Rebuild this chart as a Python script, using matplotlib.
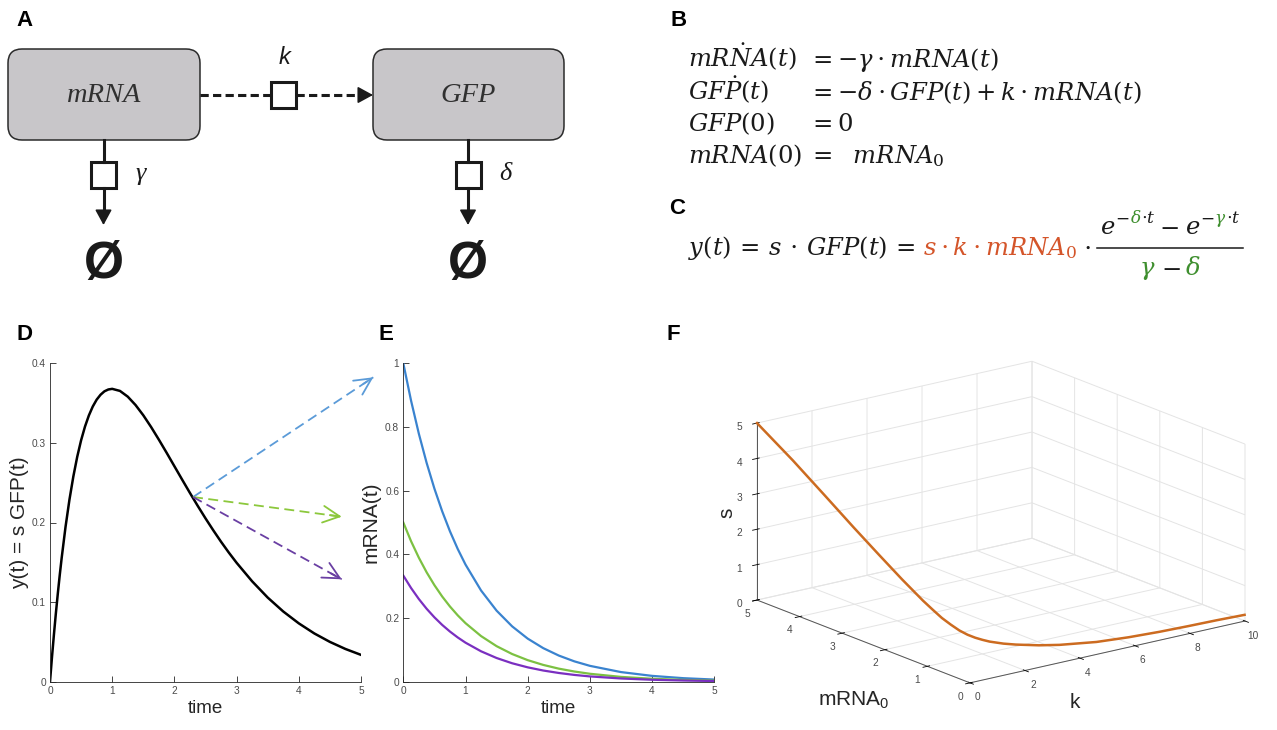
import numpy as np
import matplotlib
matplotlib.use('Agg')
import matplotlib.pyplot as plt
from matplotlib.patches import FancyBboxPatch, Rectangle
from mpl_toolkits.mplot3d import proj3d

# ---------------- data ----------------
# Panel D: y(t) = s*GFP(t)
t_d = [0, 0.03125, 0.0625, 0.09375, 0.125, 0.15625, 0.1875, 0.25, 0.3125, 0.375, 0.4375, 0.5,
       0.5625, 0.625, 0.6875, 0.75, 0.8125, 0.875, 0.9375, 1.0, 1.125, 1.25, 1.375, 1.5, 1.625,
       1.75, 1.875, 2.0, 2.125, 2.25, 2.375, 2.5, 2.625, 2.75, 2.875, 3.0, 3.25, 3.5, 3.75, 4.0,
       4.25, 4.5, 4.75, 5.0]
y_d = [0, 0.0303, 0.0587, 0.0854, 0.1103, 0.1337, 0.1554, 0.1947, 0.2286, 0.2577, 0.2825, 0.3033,
       0.3205, 0.3345, 0.3457, 0.3543, 0.3605, 0.3648, 0.3671, 0.3679, 0.3653, 0.3581, 0.3476,
       0.3347, 0.3200, 0.3041, 0.2876, 0.2707, 0.2538, 0.2371, 0.2209, 0.2052, 0.1902, 0.1758,
       0.1622, 0.1494, 0.1261, 0.1057, 0.0882, 0.0733, 0.0606, 0.0500, 0.0411, 0.0337]
arrow_anchor = (2.3, 0.232)

# Panel E: mRNA(t) for three initial amounts
t_e = [0, 0.125, 0.25, 0.375, 0.5, 0.625, 0.75, 0.875, 1.0, 1.25, 1.5, 1.75, 2.0, 2.25, 2.5,
       2.75, 3.0, 3.5, 4.0, 4.5, 5.0]
mrna_blue = [1.0, 0.8825, 0.7788, 0.6873, 0.6065, 0.5353, 0.4724, 0.4169, 0.3679, 0.2865, 0.2231,
             0.1738, 0.1353, 0.1054, 0.0821, 0.0639, 0.0498, 0.0302, 0.0183, 0.0111, 0.0067]
mrna_green = [0.5, 0.4412, 0.3894, 0.3436, 0.3033, 0.2676, 0.2362, 0.2084, 0.1839, 0.1433, 0.1116,
              0.0869, 0.0677, 0.0527, 0.0410, 0.0320, 0.0249, 0.0151, 0.0092, 0.0056, 0.0034]
mrna_purple = [0.3333, 0.2942, 0.2596, 0.2291, 0.2022, 0.1784, 0.1575, 0.1390, 0.1226, 0.0955,
               0.0744, 0.0579, 0.0451, 0.0351, 0.0274, 0.0213, 0.0166, 0.0101, 0.0061, 0.0037, 0.0022]

# Panel F: curve of equivalent parameter sets (k, mRNA0, s)
k_vals = [0, 0.25, 0.5, 0.75, 1.0, 1.25, 1.5, 1.625, 1.75, 1.875, 2.0, 2.125, 2.25, 2.375, 2.5,
          2.75, 3.0, 3.5, 4.0, 5.0, 6.0, 7.0, 8.0, 9.0, 10.0]
m0_vals = [5.0, 4.32, 3.73, 3.22, 2.78, 2.40, 2.07, 1.92, 1.79, 1.66, 1.54, 1.43, 1.33, 1.24, 1.15,
           0.99, 0.86, 0.64, 0.48, 0.26, 0.15, 0.08, 0.05, 0.03, 0.01]
s_vals = [5.0, 4.22, 3.46, 2.76, 2.14, 1.58, 1.09, 0.88, 0.69, 0.54, 0.41, 0.32, 0.26, 0.22, 0.19,
          0.165, 0.155, 0.15, 0.15, 0.16, 0.17, 0.18, 0.18, 0.18, 0.17]

d_xticks = [0, 1, 2, 3, 4, 5]
d_yticks = [0, 0.1, 0.2, 0.3, 0.4]
d_ytlabels = ['0', '0.1', '0.2', '0.3', '0.4']
e_yticks = [0, 0.2, 0.4, 0.6, 0.8, 1.0]
e_ytlabels = ['0', '0.2', '0.4', '0.6', '0.8', '1']
f_kticks = [0, 2, 4, 6, 8, 10]
f_mticks = [0, 1, 2, 3, 4, 5]
f_sticks = [0, 1, 2, 3, 4, 5]

# ---------------- style ----------------
W, H = 1277, 730
plt.rcParams['font.family'] = ['Liberation Sans', 'DejaVu Sans']
plt.rcParams['mathtext.fontset'] = 'dejavuserif'

C_BLUE = '#3a83cf'
C_GREEN = '#7cc142'
C_PURPLE = '#7a2fc0'
A_BLUE = '#5b9bd8'
A_GREEN = '#8cc83c'
A_PURPLE = '#6a3fa3'
C_ORANGE = '#cc6b20'
EQ_ORANGE = '#d4552a'
EQ_GREEN = '#3f8f2f'
BLACK = '#1a1a1a'
AX = '#262626'
TICKC = '#4a4a4a'

fig = plt.figure(figsize=(W / 100, H / 100), dpi=100)
fig.patch.set_facecolor('white')


def rect(x0, y_top, x1, y_bot):
    return [x0 / W, 1 - y_bot / H, (x1 - x0) / W, (y_bot - y_top) / H]


def style2d(ax):
    for sp in ['top', 'right']:
        ax.spines[sp].set_visible(False)
    for sp in ['left', 'bottom']:
        ax.spines[sp].set_color(AX)
        ax.spines[sp].set_linewidth(0.6)
    ax.tick_params(direction='in', length=4, width=0.6, color=AX, labelsize=7.3,
                   labelcolor=TICKC, pad=3)


# ---------------- panel D ----------------
axD = fig.add_axes(rect(50, 363.3, 361, 681.7))
axD.plot(t_d, y_d, color='black', lw=1.8, solid_joinstyle='round')
axD.set_xlim(0, 5)
axD.set_ylim(0, 0.4)
axD.set_xticks(d_xticks)
axD.set_yticks(d_yticks)
axD.set_yticklabels(d_ytlabels)
style2d(axD)
axD.set_xlabel('time', fontsize=13.5, color=AX, labelpad=3)
axD.set_ylabel('y(t) = s GFP(t)', fontsize=15, color=AX, labelpad=2)

# ---------------- panel E ----------------
axE = fig.add_axes(rect(403.3, 363.3, 714.3, 681.7))
axE.plot(t_e, mrna_blue, color=C_BLUE, lw=1.6)
axE.plot(t_e, mrna_green, color=C_GREEN, lw=1.6)
axE.plot(t_e, mrna_purple, color=C_PURPLE, lw=1.6)
axE.set_xlim(0, 5)
axE.set_ylim(0, 1)
axE.set_xticks(d_xticks)
axE.set_yticks(e_yticks)
axE.set_yticklabels(e_ytlabels)
style2d(axE)
axE.set_xlabel('time', fontsize=13.5, color=AX, labelpad=3)
axE.set_ylabel('mRNA(t)', fontsize=15, color=AX, labelpad=3)

# ---------------- panel F (3D) ----------------
axF = fig.add_axes([0.55, -0.1, 0.44, 0.44 * W / H], projection='3d')
axF.set_proj_type('ortho')
axF.view_init(elev=17.2, azim=-127.25)
axF.set_box_aspect((345.6, 352.0, 185.3))
axF.set_facecolor((1, 1, 1, 0))
axF.plot(k_vals, m0_vals, s_vals, color=C_ORANGE, lw=1.8, solid_joinstyle='round')
axF.set_xlim(0, 10)
axF.set_ylim(0, 5)
axF.set_zlim(0, 5)
axF.set_xticks(f_kticks)
axF.set_yticks(f_mticks)
axF.set_zticks(f_sticks)
for a in (axF.xaxis, axF.yaxis, axF.zaxis):
    a.set_pane_color((1, 1, 1, 0))
    a.pane.set_edgecolor('#e4e4e4')
    a._axinfo['grid']['color'] = '#e4e4e4'
    a._axinfo['grid']['linewidth'] = 0.7
    a._axinfo['axisline']['color'] = '#555555'
    a._axinfo['axisline']['linewidth'] = 0.7
    a._axinfo['tick']['color'] = '#555555'
    a._axinfo['tick']['linewidth'] = {True: 0.6, False: 0.5}
    a.line.set_color('#555555')
    a.line.set_linewidth(0.7)
axF.tick_params(labelsize=7.3, labelcolor=TICKC, pad=-1)


def proj_px(ax, p):
    xs, ys, _ = proj3d.proj_transform(p[0], p[1], p[2], ax.get_proj())
    return np.array(ax.transData.transform((xs, ys)))


targets = {(0, 0, 0): (970, H - 683), (10, 0, 0): (1245, H - 621),
           (0, 5, 0): (757, H - 600), (0, 5, 5): (757, H - 423)}
size = 0.44 * W
cx, cy = 1000, 210
axF.set_position([(cx - size / 2) / W, (cy - size / 2) / H, size / W, size / H])
for it in range(3):
    fig.canvas.draw()
    cur = {kk: proj_px(axF, kk) for kk in targets}
    sc = (targets[(10, 0, 0)][0] - targets[(0, 5, 0)][0]) / (cur[(10, 0, 0)][0] - cur[(0, 5, 0)][0])
    size *= sc
    axF.set_position([(cx - size / 2) / W, (cy - size / 2) / H, size / W, size / H])
    fig.canvas.draw()
    cur = {kk: proj_px(axF, kk) for kk in targets}
    off = np.mean([np.array(targets[kk]) - cur[kk] for kk in targets], axis=0)
    cx += off[0]
    cy += off[1]
    axF.set_position([(cx - size / 2) / W, (cy - size / 2) / H, size / W, size / H])

# ---------------- overlay (diagram, equations, labels, arrows) ----------------
ov = fig.add_axes([0, 0, 1, 1], zorder=10)
ov.set_xlim(0, W)
ov.set_ylim(H, 0)
ov.axis('off')
ov.patch.set_alpha(0)

# panel letters
for letter, x, y in [('A', 16, 20), ('B', 670, 20), ('C', 669, 208),
                     ('D', 17, 335), ('E', 379, 335), ('F', 667, 335)]:
    ov.text(x, y, letter, fontsize=16, fontweight='bold', ha='left', va='center', color='black')

# F axis labels
ov.text(727, 513, 's', fontsize=15, rotation=90, ha='center', va='center', color=AX)
ov.text(1075, 703, 'k', fontsize=15, ha='center', va='center', color=AX)
ov.text(854, 700, r'mRNA$_{\mathregular{0}}$', fontsize=15, ha='center', va='center', color=AX)

# ---- panel A diagram ----
LW = 2.2
DK = '#1a1a1a'
HEAD = dict(arrowstyle='-|>,head_length=0.55,head_width=0.3', color=DK, lw=1.2,
            shrinkA=0, shrinkB=0, mutation_scale=17)
box_kw = dict(boxstyle='round,pad=0,rounding_size=14', fc='#c8c6c9', ec='#2b2b2b', lw=1.1)
ov.add_patch(FancyBboxPatch((8, 49), 192, 91, **box_kw))
ov.add_patch(FancyBboxPatch((373, 49), 191, 91, **box_kw))
ov.text(104, 96, 'mRNA', family='Liberation Serif', style='italic', fontsize=20.5, color='#303030',
        ha='center', va='center')
ov.text(468, 96, 'GFP', family='Liberation Serif', style='italic', fontsize=20.5, color='#303030',
        ha='center', va='center')
# production link
dash = (0, (2.7, 1.4))
ov.plot([200, 271], [95, 95], color=DK, lw=LW, ls=dash)
ov.plot([296, 364], [95, 95], color=DK, lw=LW, ls=dash)
ov.annotate('', xy=(373, 95), xytext=(363, 95), arrowprops=HEAD)
ov.add_patch(Rectangle((271, 82), 25, 26, fc='white', ec=DK, lw=LW))
ov.text(285, 58, 'k', family='Liberation Sans', style='italic', fontsize=17, color=DK,
        ha='center', va='center')
# degradation links
for xc, sym in [(103.5, 'γ'), (468, 'δ')]:
    ov.plot([xc, xc], [140, 162], color=DK, lw=LW)
    ov.add_patch(Rectangle((xc - 12.5, 162), 25, 26, fc='white', ec=DK, lw=LW))
    ov.plot([xc, xc], [188, 216], color=DK, lw=LW)
    ov.annotate('', xy=(xc, 225), xytext=(xc, 214), arrowprops=HEAD)
    ov.text(xc + 37, 174, sym, family='Liberation Serif', style='italic', fontsize=19, color=DK,
            ha='center', va='center')
    ov.text(xc, 265, 'Ø', family='Liberation Sans', fontweight='bold', fontsize=37, color=DK,
            ha='center', va='center')

# ---- equations ----
renderer = fig.canvas.get_renderer()
EQ = 17.5


def put(x, y, s, size=EQ, color=BLACK):
    t = ov.text(x, y, s, fontsize=size, color=color, ha='left', va='baseline')
    return x + t.get_window_extent(renderer).width, t


lhs = [r'$mR\dot{N}A(t)$', r'$GF\dot{P}(t)$', r'$GFP(0)$', r'$mRNA(0)$']
rhs = [r'$=-\gamma\cdot mRNA(t)$', r'$=-\delta\cdot GFP(t)+k\cdot mRNA(t)$', r'$=0$',
       r'$=\ \ mRNA_0$']
for L, R, yb in zip(lhs, rhs, [67, 100, 131, 163]):
    put(688, yb, L)
    put(808, yb, R)

y0 = 255
x, _ = put(688, y0, r'$y(t)\,=\,s\,\cdot\, GFP(t)\,=$')
x += 8
x, _ = put(x, y0, r'$s\cdot k\cdot mRNA_0$', color=EQ_ORANGE)
x += 6
x, _ = put(x, y0, r'$\cdot$')
x += 6
bar_x0 = x

SUP = EQ * 0.7
num_base = 234
sup_base = num_base - 11
num_pieces = [('$e$', EQ, 0, BLACK), ('$-$', SUP, 1, BLACK), (r'$\delta$', SUP, 1, EQ_GREEN),
              (r'$\cdot t$', SUP, 1, BLACK), ('gap', 3, 0, None), ('$-$', EQ, 0, BLACK),
              ('gap', 6, 0, None), ('$e$', EQ, 0, BLACK), ('$-$', SUP, 1, BLACK),
              (r'$\gamma$', SUP, 1, EQ_GREEN), (r'$\cdot t$', SUP, 1, BLACK)]
den_pieces = [(r'$\gamma$', EQ, 0, EQ_GREEN), ('gap', 5, 0, None), ('$-$', EQ, 0, BLACK),
              ('gap', 5, 0, None), (r'$\delta$', EQ, 0, EQ_GREEN)]


def layout(pieces, base, xstart):
    xx = xstart
    objs = []
    for s, sz, sup, col in pieces:
        if s == 'gap':
            xx += sz
            continue
        xx, t = put(xx, sup_base if sup else base, s, size=sz, color=col)
        objs.append(t)
    return xx - xstart, objs


nw, nobjs = layout(num_pieces, num_base, bar_x0 + 3)
bar_w = nw + 5
ov.plot([bar_x0, bar_x0 + bar_w], [248, 248], color=BLACK, lw=1.1)
dw, dobjs = layout(den_pieces, 275, 0)
shift = bar_x0 + (bar_w - dw) / 2
for t in dobjs:
    px_, py_ = t.get_position()
    t.set_position((px_ + shift, py_))

# ---- arrows from D to E ----
disp = axD.transData.transform(arrow_anchor)
sx, sy = ov.transData.inverted().transform(disp)
for (ex, ey), col in [((373.3, 377.3), A_BLUE), ((341.7, 516.7), A_GREEN),
                      ((341.7, 579.3), A_PURPLE)]:
    ov.plot([sx, ex], [sy, ey], color=col, lw=1.3, ls=(0, (5.5, 3)))
    dx, dy = ex - sx, ey - sy
    n = np.hypot(dx, dy)
    ov.annotate('', xy=(ex, ey), xytext=(ex - dx / n * 12, ey - dy / n * 12),
                arrowprops=dict(arrowstyle='->,head_length=0.6,head_width=0.3', color=col,
                                lw=1.3, shrinkA=0, shrinkB=0, mutation_scale=20))

fig.savefig('out.png', dpi=100, facecolor='white')
